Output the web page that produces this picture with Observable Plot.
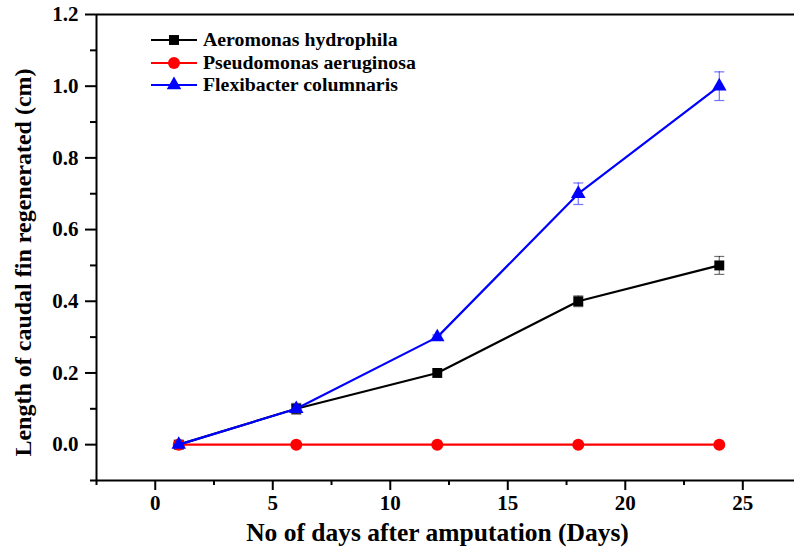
<!DOCTYPE html>
<html><head><meta charset="utf-8">
<script src="https://cdn.jsdelivr.net/npm/d3@7"></script>
<script src="https://cdn.jsdelivr.net/npm/@observablehq/plot@0.6"></script>
<style>
body{margin:0;background:#fff;}
#wrap{position:relative;width:794px;height:557px;overflow:hidden;}
#legend{position:absolute;left:150px;top:29px;font-family:"Liberation Serif","Times New Roman","DejaVu Serif",serif;font-weight:bold;font-size:18px;line-height:22.5px;color:#000;}
#legend .row{display:flex;align-items:center;height:22.5px;white-space:nowrap;}
#legend svg{margin-right:5px;}
#legend span{display:inline-block;transform:scaleX(1.1);transform-origin:left center;}
</style></head><body><div id="wrap"><div id="legend"></div></div>
<script>
const days = [1, 6, 12, 18, 24];
const seriesNames = ["Aeromonas hydrophila", "Pseudomonas aeruginosa", "Flexibacter columnaris"];
const aeromonas = [0, 0.1, 0.2, 0.4, 0.5];
const aeromonasErr = [0, 0.015, 0, 0.015, 0.025];
const pseudomonas = [0, 0, 0, 0, 0];
const pseudomonasErr = [0, 0, 0, 0, 0];
const flexibacter = [0, 0.1, 0.3, 0.7, 1.0];
const flexibacterErr = [0, 0.01, 0.006, 0.03, 0.04];
const colors = ["#000000", "#ff0000", "#0000ff"];
const symbols = ["square", "circle", "triangle"];
const symbolR = [5.6, 6, 5.4];
const xTicks = [0, 5, 10, 15, 20, 25];
const xMinorTicks = [-2.5, 2.5, 7.5, 12.5, 17.5, 22.5];
const yTicks = [0, 0.2, 0.4, 0.6, 0.8, 1.0, 1.2];
const yMinorTicks = [-0.1, 0.1, 0.3, 0.5, 0.7, 0.9, 1.1];
const xDomain = [-2.5, 27.2];
const yDomain = [-0.1, 1.2];
const xTitle = "No of days after amputation (Days)";
const yTitle = "Length of caudal fin regenerated (cm)";

const valuesList = [aeromonas, pseudomonas, flexibacter];
const errList = [aeromonasErr, pseudomonasErr, flexibacterErr];
const data = [];
seriesNames.forEach((s, i) => days.forEach((d, j) => data.push({series: s, idx: i, day: d, value: valuesList[i][j], err: errList[i][j]})));

const capSymbol = {draw(ctx, size) { ctx.moveTo(-5, 0); ctx.lineTo(5, 0); }};
const font = "'Liberation Serif', 'Times New Roman', 'DejaVu Serif', serif";

const marks = [];
marks.push(Plot.ruleX([xDomain[0]], {stroke: "#000", strokeWidth: 2}));
marks.push(Plot.ruleY([yDomain[0]], {stroke: "#000", strokeWidth: 2}));
marks.push(Plot.ruleY([yDomain[1]], {stroke: "#000", strokeWidth: 2}));
marks.push(Plot.axisY(yTicks, {tickSize: 11, tickPadding: 7, tickFormat: d3.format(".1f"), strokeWidth: 2, fontSize: 21, fontWeight: "bold", fontFamily: font, label: null}));
marks.push(Plot.axisY(yMinorTicks, {tickSize: 6, tickFormat: () => "", strokeWidth: 2, label: null}));
marks.push(Plot.axisX(xTicks, {tickSize: 10, tickPadding: 5, strokeWidth: 2, fontSize: 21, fontWeight: "bold", fontFamily: font, label: null}));
marks.push(Plot.axisX(xMinorTicks, {tickSize: 5, tickFormat: () => "", strokeWidth: 2, label: null}));
seriesNames.forEach((s, i) => {
  const sd = data.filter(d => d.idx === i);
  const eb = sd.filter(d => d.err > 0);
  marks.push(Plot.ruleX(eb, {x: "day", y1: d => d.value - d.err, y2: d => d.value + d.err, stroke: colors[i], strokeOpacity: 0.55, strokeWidth: 1.2}));
  marks.push(Plot.dot(eb, {x: "day", y: d => d.value + d.err, symbol: capSymbol, stroke: colors[i], strokeOpacity: 0.55, strokeWidth: 1.2, fill: "none"}));
  marks.push(Plot.dot(eb, {x: "day", y: d => d.value - d.err, symbol: capSymbol, stroke: colors[i], strokeOpacity: 0.55, strokeWidth: 1.2, fill: "none"}));
  marks.push(Plot.line(sd, {x: "day", y: "value", stroke: colors[i], strokeWidth: 2.2}));
  marks.push(Plot.dot(sd, {x: "day", y: "value", symbol: symbols[i], r: symbolR[i], fill: colors[i], stroke: "none"}));
});
marks.push(Plot.text([xTitle], {text: d => d, frameAnchor: "bottom", textAnchor: "middle", dx: -8, dy: 60, fontSize: 25.5, fontWeight: "bold", fontFamily: font, fill: "#000"}));
marks.push(Plot.text([yTitle], {text: d => d, frameAnchor: "left", textAnchor: "middle", dx: -73, dy: 15, rotate: -90, fontSize: 24, fontWeight: "bold", fontFamily: font, fill: "#000"}));

const chart = Plot.plot({
  width: 794, height: 557,
  marginTop: 14, marginBottom: 77, marginLeft: 96, marginRight: 0,
  x: {domain: xDomain, type: "linear"},
  y: {domain: yDomain, type: "linear"},
  style: {fontFamily: font, color: "#000", background: "#fff"},
  marks
});
document.getElementById("wrap").prepend(chart);

const legend = document.getElementById("legend");
seriesNames.forEach((s, i) => {
  const row = document.createElement("div");
  row.className = "row";
  const svg = d3.create("svg").attr("width", 48).attr("height", 20);
  svg.append("line").attr("x1", 1).attr("x2", 47).attr("y1", 10).attr("y2", 10).attr("stroke", colors[i]).attr("stroke-width", 2.2);
  const sym = {square: d3.symbolSquare, circle: d3.symbolCircle, triangle: d3.symbolTriangle}[symbols[i]];
  svg.append("path").attr("d", d3.symbol(sym, Math.PI * symbolR[i] * symbolR[i])()).attr("transform", "translate(24,10)").attr("fill", colors[i]);
  row.appendChild(svg.node());
  const t = document.createElement("span");
  t.textContent = s;
  row.appendChild(t);
  legend.appendChild(row);
});
</script>
</body></html>
